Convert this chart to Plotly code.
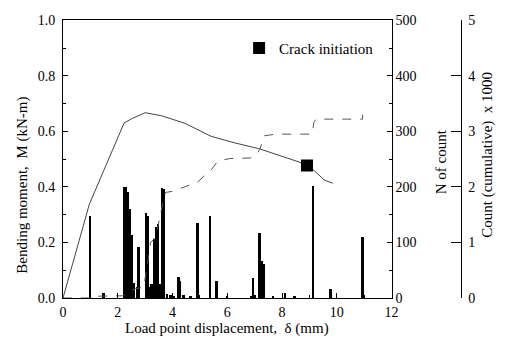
import plotly.graph_objects as go

# Bending moment curve (kN-m) vs load point displacement (mm)
moment_x = [0.0, 0.96, 2.23, 2.5, 3.0, 3.6, 4.45, 5.41, 6.25, 7.21, 8.64, 8.91, 9.18, 9.54, 9.85]
moment_y = [0.0, 0.337, 0.63, 0.645, 0.667, 0.656, 0.629, 0.582, 0.559, 0.536, 0.489, 0.477, 0.458, 0.425, 0.413]

# Crack initiation point
crack_x = [8.91]
crack_y = [0.477]

# AE event counts (N of count)
count_x = [0.99, 1.48, 2.22, 2.30, 2.38, 2.44, 2.50, 2.60, 2.70, 2.76,
           3.02, 3.10, 3.18, 3.23, 3.32, 3.42, 3.48, 3.55, 3.62, 3.69,
           3.80, 3.93, 4.05, 4.22, 4.27, 4.40, 4.65, 4.91, 5.36, 5.60,
           6.00, 6.86, 6.95, 7.02, 7.18, 7.25, 7.32, 7.66, 8.10, 8.45,
           9.14, 9.77, 10.94]
count_n = [148, 9, 200, 200, 190, 160, 113, 26, 20, 92,
           153, 148, 19, 25, 106, 127, 133, 25, 198, 196,
           6, 5, 3, 37, 30, 5, 3, 135, 148, 31,
           2, 2, 35, 5, 116, 66, 61, 4, 9, 3,
           201, 15, 110]

# Cumulative count (x 1000)
cum_x = [0.0, 0.95, 1.0, 2.2, 2.4, 2.66, 2.95, 3.05, 3.2, 3.3, 3.45, 3.6, 3.74, 4.0,
         4.28, 4.5, 4.93, 5.29, 5.4, 5.65, 6.08, 6.83, 7.01, 7.19, 7.34, 7.8, 9.1,
         9.16, 9.24, 10.94, 10.94]
cum_k = [0.0, 0.0, 0.03, 0.04, 0.12, 0.17, 0.19, 0.5, 1.0, 1.05, 1.25, 1.6, 1.9, 1.92,
         1.97, 2.0, 2.09, 2.27, 2.3, 2.46, 2.51, 2.52, 2.55, 2.67, 2.92, 2.95, 2.95,
         3.16, 3.22, 3.22, 3.3]

FONT = "Liberation Serif"

fig = go.Figure()
fig.add_trace(go.Scatter(x=moment_x, y=moment_y, mode="lines",
                         line=dict(color="#444", width=1), showlegend=False, yaxis="y"))
fig.add_trace(go.Scatter(x=crack_x, y=crack_y, mode="markers", name="Crack initiation",
                         marker=dict(symbol="square", size=12, color="black"),
                         showlegend=True, yaxis="y"))
fig.add_trace(go.Bar(x=count_x, y=count_n, width=0.085, marker=dict(color="black", line=dict(width=0)),
                     showlegend=False, yaxis="y2"))
fig.add_trace(go.Scatter(x=cum_x, y=cum_k, mode="lines",
                         line=dict(color="#555", width=1, dash="dash"), showlegend=False, yaxis="y3"))

W, H = 506, 356
L, R, T, B = 63, 10, 10, 58.3
pw = W - L - R
ph = H - T - B
xr = (397 - L) / pw
ytop = (297.7 - 13.3) / ph

axis_common = dict(showline=True, linecolor="black", linewidth=1, ticks="inside",
                   tickcolor="black", showgrid=False, zeroline=False,
                   tickfont=dict(family=FONT, size=14, color="black"))

fig.update_layout(
    width=W, height=H,
    margin=dict(l=L, r=R, t=T, b=B),
    paper_bgcolor="white", plot_bgcolor="white",
    bargap=0,
    xaxis=dict(range=[0, 12], domain=[0, xr], dtick=2, ticklen=5, mirror=True,
               minor=dict(dtick=1, ticks="inside", ticklen=3, tickcolor="black"),
               ticklabelstandoff=1, **axis_common),
    yaxis=dict(range=[0, 1], domain=[0, ytop], dtick=0.2, tickformat=".1f", ticklen=5,
               minor=dict(dtick=0.1, ticks="inside", ticklen=3, tickcolor="black"),
               ticklabelstandoff=4, **axis_common),
    yaxis2=dict(range=[0, 500], overlaying="y", side="right", anchor="x", dtick=100, ticklen=5,
                minor=dict(dtick=50, ticks="inside", ticklen=3, tickcolor="black"),
                ticklabelstandoff=0, **axis_common),
    yaxis3=dict(range=[0, 5], overlaying="y", side="right", anchor="free",
                position=(468 - L) / pw, dtick=1, ticklen=10,
                ticklabelstandoff=3, **axis_common),
    legend=dict(x=(242 - L) / pw, y=(297.7 - 42) / ph, xanchor="left", yanchor="middle",
                bgcolor="rgba(0,0,0,0)", itemwidth=30,
                font=dict(family=FONT, size=15, color="black")),
    annotations=[
        dict(text="Bending moment,  M (kN-m)", xref="paper", yref="paper",
             x=(22 - L) / pw, y=(297.7 - 182) / ph, textangle=-90, showarrow=False,
             xanchor="center", yanchor="middle", font=dict(family=FONT, size=15, color="black")),
        dict(text="N of count", xref="paper", yref="paper",
             x=(447 - L) / pw, y=(297.7 - 158) / ph, textangle=-90, showarrow=False,
             xanchor="center", yanchor="middle", font=dict(family=FONT, size=15, color="black")),
        dict(text="Count (cumulative)  x 1000", xref="paper", yref="paper",
             x=(495 - L) / pw, y=(297.7 - 151) / ph, textangle=-90, showarrow=False,
             xanchor="center", yanchor="middle", font=dict(family=FONT, size=15, color="black")),
        dict(text="Load point displacement,  δ (mm)", xref="paper", yref="paper",
             x=(230 - L) / pw, y=(297.7 - 329) / ph, showarrow=False,
             xanchor="center", yanchor="middle", font=dict(family=FONT, size=15, color="black")),
    ],
)

fig.write_html("out.html")
